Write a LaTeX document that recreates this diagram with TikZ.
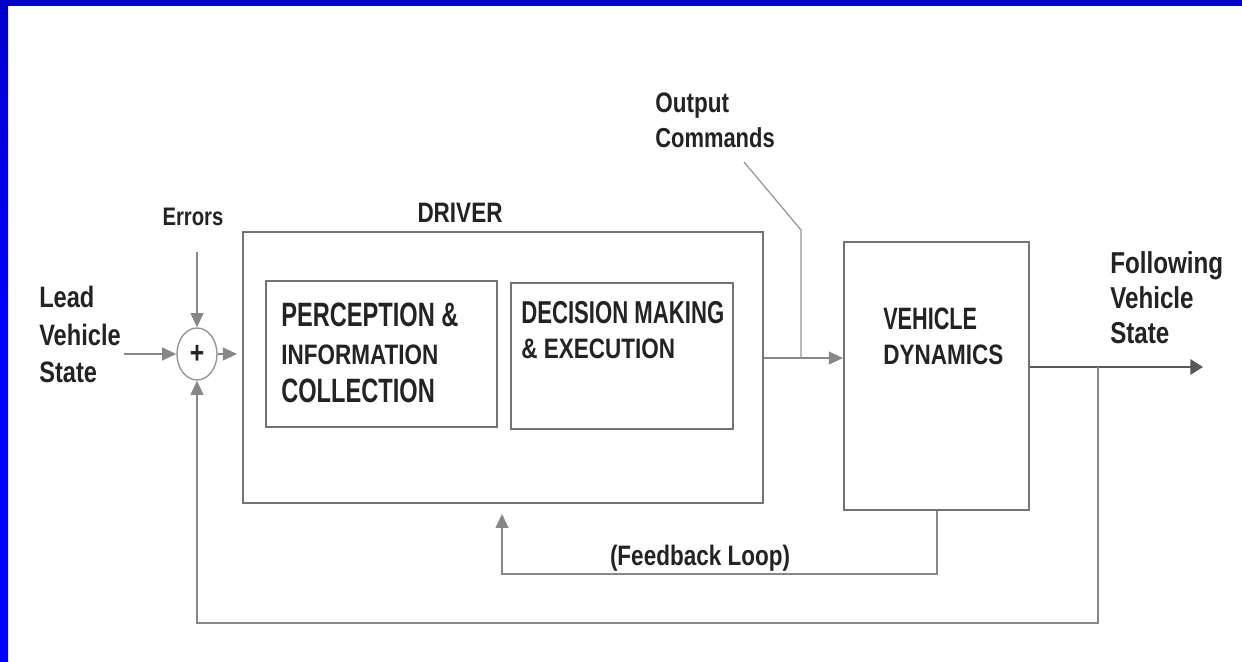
\documentclass[tikz,border=0pt]{standalone}
\usepackage{fontspec}
\setmainfont{Liberation Sans}
\newfontfamily\boxfont{Liberation Sans}[FakeStretch=0.7]
\newfontfamily\tagfont{Liberation Sans}[FakeStretch=0.8]
\usetikzlibrary{arrows.meta,shapes.geometric}

\definecolor{slideblue}{RGB}{0,0,255}
\definecolor{topblue}{RGB}{0,0,204}
\definecolor{boxgray}{RGB}{115,115,115}
\definecolor{wiregray}{RGB}{150,150,150}
\definecolor{inkgray}{RGB}{35,35,35}

\tikzset{
  block/.style={draw=boxgray,line width=1.4pt,inner sep=0pt},
  wire/.style={draw=wiregray,line width=1.3pt},
  arr/.style={wire,-{Triangle[length=10pt,width=9pt]},color=wiregray!90!black},
  boxtext/.style={inner sep=0pt,align=left,anchor=west,text=inkgray},
  tag/.style={inner sep=0pt,align=left,text=inkgray},
}

\begin{document}
\begin{tikzpicture}[x=0.025cm,y=-0.025cm]
\useasboundingbox (0,0) rectangle (1242,662);
% slide frame
\fill[white] (0,0) rectangle (1242,662);
\shade[top color=topblue,bottom color=slideblue,middle color=slideblue] (0,0) rectangle (8,662);
\fill[topblue] (0,0) rectangle (1242,6);

% blocks
\node[block,minimum width=13cm,minimum height=6.775cm] (driver) at (503,367.5) {};
\node[block,minimum width=5.775cm,minimum height=3.65cm] (perc) at (381.5,354) {};
\node[block,minimum width=5.55cm,minimum height=3.65cm] (dec) at (622,356) {};
\node[block,minimum width=4.625cm,minimum height=6.7cm] (vehicle) at (936.5,376) {};
\node[ellipse,draw=wiregray,line width=1pt,inner sep=0pt,minimum width=1cm,minimum height=1.3cm,
      font=\tagfont\bfseries\fontsize{22}{22}\selectfont,text=inkgray] (sum) at (197,354) {+};

% texts (left edge, middle)
\node[boxtext,font=\boxfont\bfseries\fontsize{24}{27}\selectfont] (percText) at (281,353)
  {PERCEPTION \&\\{\tagfont\fontsize{20}{27}\selectfont INFORMATION}\\COLLECTION};
\node[boxtext,font=\boxfont\bfseries\fontsize{22.5}{24.5}\selectfont] (decText) at (521,330)
  {DECISION MAKING\\{\tagfont\fontsize{20}{24.5}\selectfont \& EXECUTION}};
\node[boxtext,font=\boxfont\bfseries\fontsize{22}{25}\selectfont] (vehText) at (883,336.5)
  {VEHICLE\\{\tagfont\fontsize{20}{25}\selectfont DYNAMICS}};
\node[tag,font=\tagfont\bfseries\fontsize{20}{20}\selectfont] (driverText) at (460,213) {DRIVER};
\node[tag,anchor=west,font=\tagfont\bfseries\fontsize{21}{26.5}\selectfont] (lead) at (39,334.5)
  {Lead\\Vehicle\\State};
\node[tag,font=\tagfont\bfseries\fontsize{18}{18}\selectfont] (errors) at (193,217) {Errors};
\node[tag,anchor=west,font=\tagfont\bfseries\fontsize{20}{25}\selectfont] (output) at (655,120.5)
  {Output\\{\fontsize{19.5}{25}\selectfont Commands}};
\node[tag,anchor=west,font=\tagfont\bfseries\fontsize{21.5}{25}\selectfont] (follow) at (1110,297.5)
  {Following\\Vehicle\\State};
\node[tag,font=\tagfont\bfseries\fontsize{20}{20}\selectfont] (fbText) at (700,558) {(Feedback Loop)};

% junction points
\coordinate (errin) at (197,252);
\coordinate (cmd) at (801,358);
\coordinate (bend) at (801,230);
\coordinate (tagend) at (744,162);
\coordinate (fvs) at (1203,367);
\coordinate (tap) at (1098,367);
\coordinate (loopcorner) at (1098,623);
\coordinate (fbcorner) at (937,574);
\coordinate (fbturn) at (502,574);

% connectors
\draw[arr,shorten <=2pt] (lead.east |- sum) -- (sum.west);
\draw[arr] (errin) -- (sum.north);
\draw[arr,shorten >=3.5pt] (sum.east) -- (driver.west |- sum.east);
\draw[arr] (driver.east |- cmd) -- (vehicle.west |- cmd);
\draw[wire,line width=0.9pt] (cmd) -- (bend) -- (tagend);
\draw[draw=black!65,line width=1.4pt,-{Triangle[length=9pt,width=11pt]}] (vehicle.east |- fvs) -- (fvs);
\draw[arr] (tap) -- (loopcorner) -| (sum.south);
\draw[arr,shorten >=7pt] (vehicle.south -| fbcorner) -- (fbcorner) -- (fbturn) -- (driver.south -| fbturn);
\end{tikzpicture}
\end{document}
